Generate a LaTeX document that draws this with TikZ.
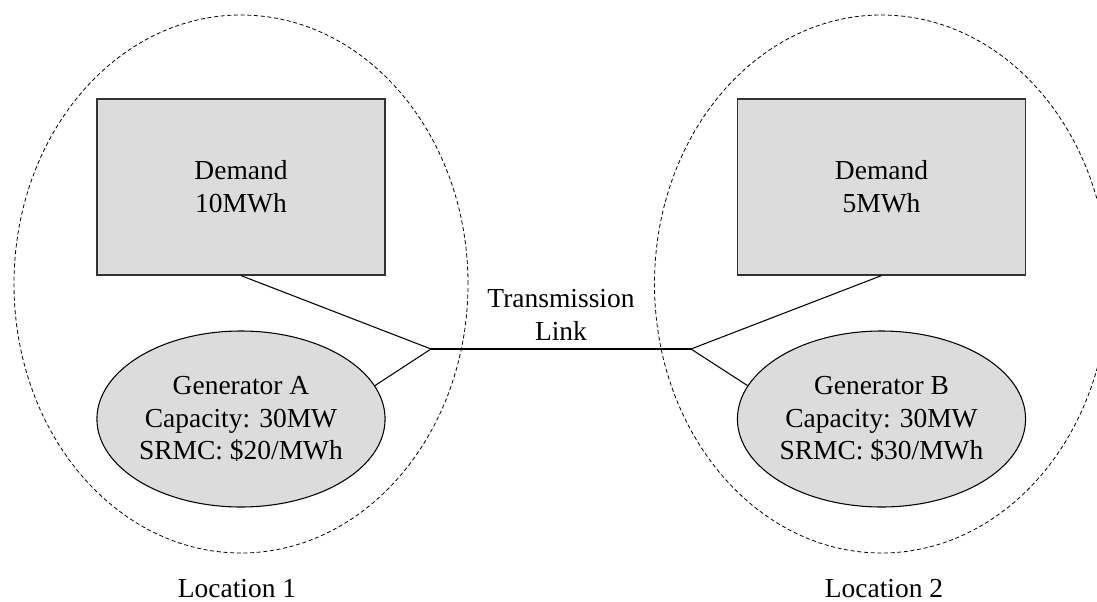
\documentclass[tikz,border=0pt]{standalone}
\usepackage{fontspec}
\setmainfont{Liberation Serif}
\usetikzlibrary{shapes.geometric}
\definecolor{boxfill}{RGB}{220,220,220}
\definecolor{boxline}{RGB}{50,50,50}
\begin{document}
\begin{tikzpicture}[x=0.75pt,y=-0.75pt,
  every node/.style={font=\fontsize{20.6}{24.5}\selectfont, inner sep=0pt},
  demandbox/.style={rectangle, draw=boxline, line width=0.9pt, fill=boxfill,
    minimum width=216pt, minimum height=132pt, align=center},
  genbox/.style={ellipse, draw=black, line width=0.8pt, fill=boxfill,
    minimum width=216pt, minimum height=132pt, align=center},
  region/.style={ellipse, draw=black, line width=0.6pt, dash pattern=on 3pt off 2pt,
    minimum width=340.5pt, minimum height=403.5pt},
  wire/.style={draw=black, line width=0.8pt}]
  \useasboundingbox (0,0) rectangle (1097,601);
  \clip (0,0) rectangle (1097,601);

  % location boundaries
  \node[region] (loc1) at (241,284) {};
  \node[region] (loc2) at (881.5,284) {};

  % demand and generation at each location
  \node[demandbox] (demA) at (241,187) {Demand\\10MWh};
  \node[demandbox] (demB) at (881.5,187) {Demand\\5MWh};
  \node[genbox] (genA) at (241,419) {Generator A\\Capacity: 30MW\\SRMC: \$20/MWh};
  \node[genbox] (genB) at (881.5,419) {Generator B\\Capacity: 30MW\\SRMC: \$30/MWh};

  % transmission link between the two buses
  \coordinate (busA) at (431,349);
  \coordinate (busB) at (691,349);
  \draw[wire] (demA.south) -- (busA);
  \draw[wire] (genA.14) -- (busA);
  \draw[wire] (busA) -- (busB);
  \draw[wire] (demB.south) -- (busB);
  \draw[wire] (genB.166) -- (busB);
  \node[align=center] (link) at (561,315) {Transmission\\Link};

  % location labels
  \node[anchor=base] (lab1) at (237,597) {Location 1};
  \node[anchor=base] (lab2) at (884,597) {Location 2};
\end{tikzpicture}
\end{document}
